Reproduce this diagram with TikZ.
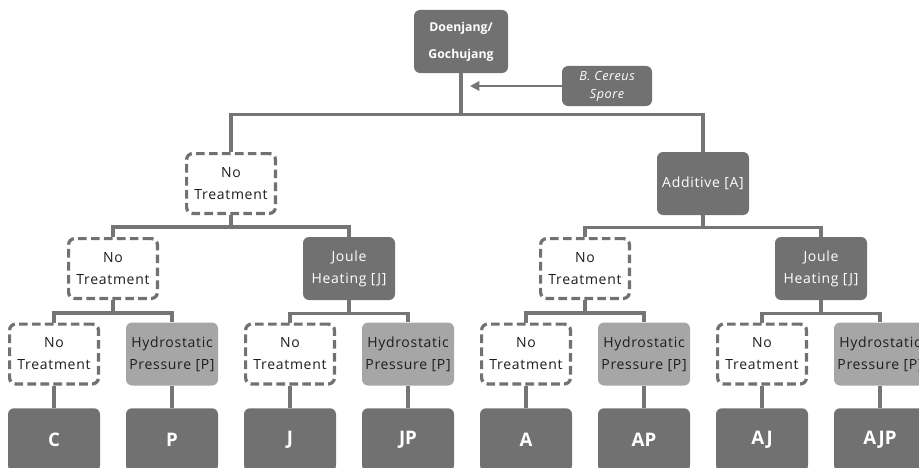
\documentclass[tikz,border=0pt]{standalone}
\usepackage{fontspec}
\setmainfont{Open Sans}
\usetikzlibrary{arrows.meta}
\definecolor{dk}{HTML}{717171}
\definecolor{lt}{HTML}{A6A6A6}
\definecolor{ln}{HTML}{757575}
\definecolor{tx}{HTML}{1E1E1E}
\begin{document}
\begin{tikzpicture}[x=0.75pt,y=-0.75pt,
  base/.style={rounded corners=4.5pt, align=center, inner sep=0pt,
    minimum width=69pt, minimum height=47.25pt,
    font=\fontsize{10.5}{16.5}\selectfont\addfontfeatures{LetterSpace=5}},
  darkbox/.style={base, fill=dk, text=white},
  lightbox/.style={base, fill=lt, text=tx},
  dashbox/.style={base, draw=dk, line width=2.4pt, dash pattern=on 6.5pt off 3.2pt,
    fill=white, text=tx, minimum width=66.6pt, minimum height=44.85pt},
  leafbox/.style={base, fill=dk, text=white, anchor=north,
    font=\bfseries\fontsize{14}{16}\selectfont},
  conn/.style={draw=ln, line width=2.5pt},
]
\useasboundingbox (0,0) rectangle (919,467);
\clip (0,0) rectangle (919,467);

% root and additive spore
\node[darkbox, minimum width=70.5pt, font=\bfseries\fontsize{9.2}{20}\selectfont] (root) at (461,41.5) {Doenjang/\\Gochujang};
\node[darkbox, minimum width=67.5pt, minimum height=30pt, font=\itshape\fontsize{9.5}{13.5}\selectfont\addfontfeatures{LetterSpace=4}] (spore) at (607,86) {B. Cereus\\Spore};
\coordinate (tip) at (470,86);
\draw[conn, line width=2pt, -{Triangle[length=7pt,width=7pt]}] (spore.west) -- (tip);

% level 1
\node[dashbox] (n1) at (231,183.5) {No\\Treatment};
\node[darkbox] (a1) at (703,183.5) {Additive [A]};

% level 2
\node[dashbox] (n2) at (113,268.5) {No\\Treatment};
\node[darkbox] (j2) at (349,268.5) {Joule\\Heating [J]};
\node[dashbox] (n3) at (585,268.5) {No\\Treatment};
\node[darkbox] (j3) at (821,268.5) {Joule\\Heating [J]};

% level 3
\node[dashbox] (c1) at (54,354) {No\\Treatment};
\node[lightbox] (c2) at (172,354) {Hydrostatic\\Pressure [P]};
\node[dashbox] (c3) at (290,354) {No\\Treatment};
\node[lightbox] (c4) at (408,354) {Hydrostatic\\Pressure [P]};
\node[dashbox] (c5) at (526,354) {No\\Treatment};
\node[lightbox] (c6) at (644,354) {Hydrostatic\\Pressure [P]};
\node[dashbox] (c7) at (762,354) {No\\Treatment};
\node[lightbox] (c8) at (880,354) {Hydrostatic\\Pressure [P]};

% level 4
\node[leafbox] (l1) at (54,408) {C};
\node[leafbox] (l2) at (172,408) {P};
\node[leafbox] (l3) at (290,408) {J};
\node[leafbox] (l4) at (408,408) {JP};
\node[leafbox] (l5) at (526,408) {A};
\node[leafbox] (l6) at (644,408) {AP};
\node[leafbox] (l7) at (762,408) {AJ};
\node[leafbox] (l8) at (880,408) {AJP};

% connectors
\draw[conn] (root.south) -- ++(0,41) -| (n1.north);
\draw[conn] (root.south) -- ++(0,41) -| (a1.north);
\draw[conn] (n1.south) -- ++(0,12) -| (n2.north);
\draw[conn] (n1.south) -- ++(0,12) -| (j2.north);
\draw[conn] (a1.south) -- ++(0,12) -| (n3.north);
\draw[conn] (a1.south) -- ++(0,12) -| (j3.north);
\draw[conn] (n2.south) -- ++(0,13) -| (c1.north);
\draw[conn] (n2.south) -- ++(0,13) -| (c2.north);
\draw[conn] (j2.south) -- ++(0,13) -| (c3.north);
\draw[conn] (j2.south) -- ++(0,13) -| (c4.north);
\draw[conn] (n3.south) -- ++(0,13) -| (c5.north);
\draw[conn] (n3.south) -- ++(0,13) -| (c6.north);
\draw[conn] (j3.south) -- ++(0,13) -| (c7.north);
\draw[conn] (j3.south) -- ++(0,13) -| (c8.north);
\foreach \i in {1,...,8} {\draw[conn] (c\i.south) -- (l\i.north);}
\end{tikzpicture}
\end{document}
